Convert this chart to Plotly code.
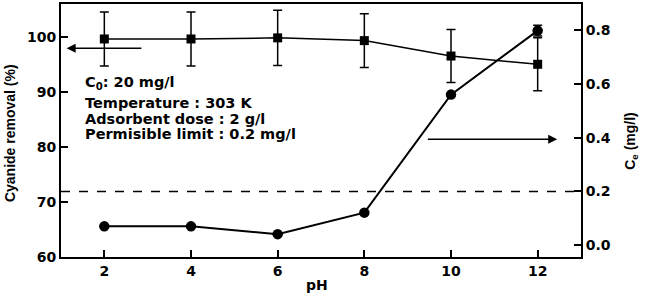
import plotly.graph_objects as go

ph = [2, 4, 6, 8, 10, 12]
removal = [99.6, 99.6, 99.8, 99.3, 96.5, 95.0]
removal_err = [4.9, 4.9, 5.0, 4.9, 4.8, 4.8]
ce = [0.070, 0.070, 0.041, 0.121, 0.560, 0.798]
ce_err = [0, 0, 0, 0, 0, 0.02]
permissible = 0.2

left_ticks = [60, 70, 80, 90, 100]
right_ticks = [0.0, 0.2, 0.4, 0.6, 0.8]
right_labels = ["0.0", "0.2", "0.4", "0.6", "0.8"]
x_ticks = [2, 4, 6, 8, 10, 12]

info_lines = ["C<sub>0</sub>: 20 mg/l", "Temperature : 303 K",
              "Adsorbent dose : 2 g/l", "Permisible limit : 0.2 mg/l"]

TF = "DejaVu Sans"
fig = go.Figure()
fig.add_trace(go.Scatter(
    x=ph, y=removal, mode="lines+markers",
    line=dict(color="black", width=1.5),
    marker=dict(symbol="square", size=9, color="black"),
    error_y=dict(type="data", array=removal_err, color="black", thickness=1.5, width=4.5),
    yaxis="y", showlegend=False))
fig.add_trace(go.Scatter(
    x=ph, y=ce, mode="lines+markers",
    line=dict(color="black", width=2),
    marker=dict(symbol="circle", size=10.5, color="black"),
    error_y=dict(type="data", array=ce_err, color="black", thickness=1.5, width=4.5),
    yaxis="y2", showlegend=False))

fig.add_shape(type="line", xref="x", yref="y2", x0=1, x1=13, y0=permissible, y1=permissible,
              line=dict(color="black", width=1.5, dash="dash"))

# arrows
fig.add_annotation(x=1.13, y=97.9, ax=2.89, ay=97.9, xref="x", yref="y", axref="x", ayref="y",
                   text="", showarrow=True, arrowhead=2, arrowsize=1.2, arrowwidth=1.5, arrowcolor="black")
fig.add_annotation(x=12.45, y=0.394, ax=9.43, ay=0.394, xref="x", yref="y2", axref="x", ayref="y2",
                   text="", showarrow=True, arrowhead=2, arrowsize=1.2, arrowwidth=1.5, arrowcolor="black")

ys = [0.687, 0.609, 0.546, 0.485]
for t, yy in zip(info_lines, ys):
    fig.add_annotation(x=0.042, y=yy, xref="paper", yref="paper", text="<b>" + t + "</b>",
                       showarrow=False, xanchor="left", yanchor="middle",
                       font=dict(family=TF, size=14.5, color="black"))

fig.add_annotation(x=-0.098, y=0.49, xref="paper", yref="paper", text="<b>Cyanide removal (%)</b>",
                   textangle=-90, showarrow=False, xanchor="center", yanchor="middle",
                   font=dict(family="Liberation Sans", size=14, color="black"))
fig.add_annotation(x=1.096, y=0.459, xref="paper", yref="paper", text="<b>C<sub>e</sub> (mg/l)</b>",
                   textangle=-90, showarrow=False, xanchor="center", yanchor="middle",
                   font=dict(family="Liberation Sans", size=14, color="black"))
fig.add_annotation(x=0.492, y=-0.11, xref="paper", yref="paper", text="<b>pH</b>",
                   showarrow=False, xanchor="center", yanchor="middle",
                   font=dict(family=TF, size=14, color="black"))

axis_common = dict(showgrid=False, zeroline=False, ticks="inside", ticklen=7, tickwidth=1.5,
                   tickcolor="black", showline=True, linecolor="black", linewidth=2,
                   tickfont=dict(family=TF, size=14, color="black"))

fig.update_layout(
    width=649, height=293,
    margin=dict(l=61, r=68, t=2, b=36),
    plot_bgcolor="white", paper_bgcolor="white",
    xaxis=dict(range=[1, 13], tickvals=x_ticks, ticktext=["<b>%d</b>" % v for v in x_ticks],
               mirror=True, **axis_common),
    yaxis=dict(range=[60, 105.95], tickvals=left_ticks, ticktext=["<b>%d</b>" % v for v in left_ticks],
               **axis_common),
    yaxis2=dict(range=[-0.044, 0.897], tickvals=right_ticks, ticktext=["<b>%s</b>" % v for v in right_labels],
                overlaying="y", side="right", **axis_common),
)

fig.write_html("out.html", config={"displayModeBar": False},
               post_script="document.body.style.margin='0';")
